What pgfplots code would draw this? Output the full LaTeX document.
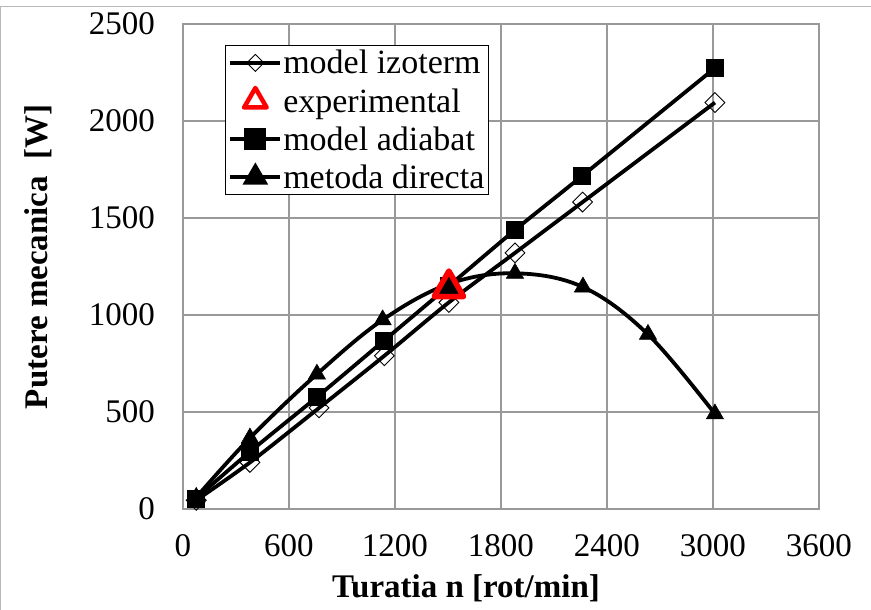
\documentclass[border=0pt]{standalone}
\usepackage{fontspec}
\setmainfont{Liberation Serif}
\usepackage{pgfplots}
\pgfplotsset{compat=1.18}
\begin{document}
\begin{tikzpicture}
\useasboundingbox (-183pt,-101pt) rectangle (688pt,509pt);
\draw[gray!55, line width=1pt] (-182.5pt,-101pt) -- (-182.5pt,502pt) -- (688pt,502pt);
\begin{axis}[
  at={(0,0)}, anchor=south west, scale only axis,
  width=636pt, height=485pt,
  xmin=0, xmax=3600, ymin=0, ymax=2500,
  xtick={0,600,...,3600}, ytick={0,500,...,2500},
  grid=major,
  major grid style={draw=black!40, line width=1.3pt},
  axis line style={draw=black!40, line width=1.3pt},
  major tick length=0pt,
  /pgf/number format/assume math mode=true,
  /pgf/number format/set thousands separator={},
  tick label style={font=\fontsize{33}{33}\selectfont, inner sep=0pt},
  yticklabel style={xshift=-28pt},
  xticklabel style={yshift=-25pt},
  xlabel={\textbf{Turatia n [rot/min]}},
  ylabel={\textbf{Putere mecanica\ \ [W]}},
  label style={font=\fontsize{33}{33}\selectfont},
  xlabel style={at={(axis description cs:0.445,0)}, anchor=base, yshift=-89pt},
  ylabel style={at={(axis description cs:-0.2123,0.52)}, anchor=base},
  legend style={at={(rel axis cs:0.066,0.957)}, anchor=north west,
    draw=black, line width=1pt, fill=white,
    font=\fontsize{34}{34}\selectfont, inner xsep=3pt, inner ysep=4pt,
    row sep=11pt, cells={anchor=west}, nodes={inner sep=1pt}},
  legend cell align=left,
  legend image code/.code={\draw[#1, line width=3.8pt] (0pt,0pt) -- (50pt,0pt);
     \draw[#1, line width=3.8pt] plot coordinates {(25pt,0pt)};},
]
% model izoterm
\addplot[black, line width=3.8pt, smooth, mark=square, mark size=7pt,
  mark options={fill=white, draw=black, line width=0.9pt, rotate=45}, forget plot]
  coordinates {(75,45) (379,240) (770,521) (1140,790) (1505,1065) (1879,1320) (2262,1582) (3011,2095)};
% model adiabat
\addplot[black, line width=3.8pt, smooth, mark=square*, mark size=8.5pt,
  mark options={fill=black, draw=black, line width=0.5pt}, forget plot]
  coordinates {(75,55) (379,295) (758,577) (1135,866) (1505,1150) (1879,1438) (2258,1716) (3011,2273)};
% metoda directa
\addplot[black, line width=3.8pt, smooth, tension=0.6, mark=triangle*, mark size=10pt,
  mark options={fill=black, draw=black, line width=0.5pt}, forget plot]
  coordinates {(75,60) (379,366) (758,695) (1130,975) (1505,1160) (1879,1215) (2264,1144) (2632,900) (3011,490)};
% experimental
\addplot[only marks, mark=triangle, mark size=17pt,
  mark options={draw=red, fill=none, line width=5.5pt, line join=round}, forget plot]
  coordinates {(1505,1139)};

\addlegendimage{black, mark=square, mark size=6pt,
  mark options={fill=white, draw=black, line width=0.8pt, rotate=45}}
\addlegendentry{model izoterm}
\addlegendimage{legend image code/.code={\draw[red, line width=4.5pt, fill=none, line join=round, mark=triangle, mark size=13pt] plot coordinates {(25pt,0pt)};}}
\addlegendentry{experimental}
\addlegendimage{black, mark=square*, mark size=9pt}
\addlegendentry{model adiabat}
\addlegendimage{black, mark=triangle*, mark size=11pt}
\addlegendentry{metoda directa}
\end{axis}
\end{tikzpicture}
\end{document}
